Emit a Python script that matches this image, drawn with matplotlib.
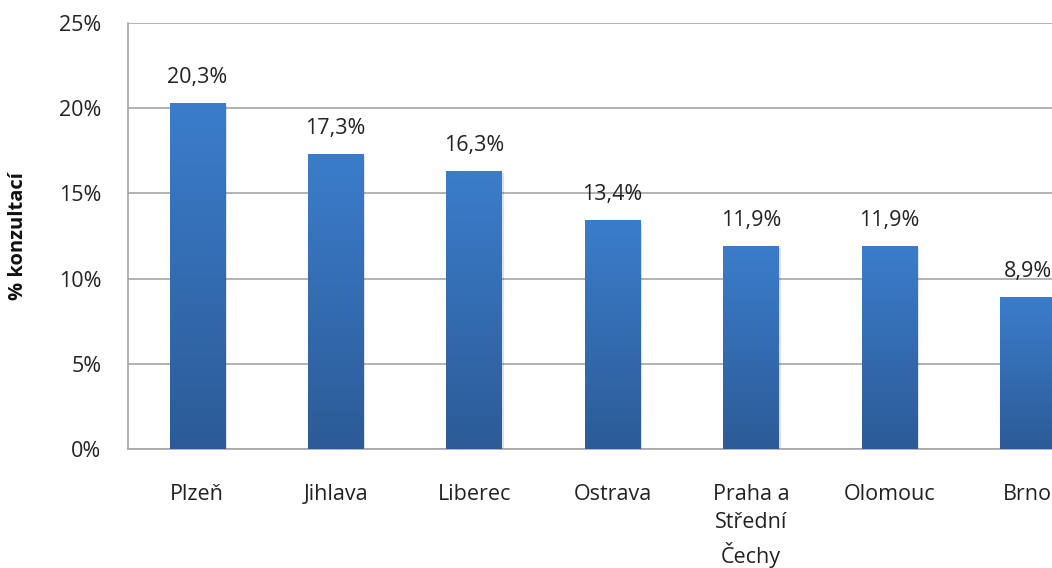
import matplotlib.pyplot as plt
import numpy as np
from matplotlib.colors import LinearSegmentedColormap

cities = ['Plzeň', 'Jihlava', 'Liberec', 'Ostrava', 'Praha a\nStřední\nČechy', 'Olomouc', 'Brno']
values = [20.3, 17.3, 16.3, 13.4, 11.9, 11.9, 8.9]
labels = ['20,3%', '17,3%', '16,3%', '13,4%', '11,9%', '11,9%', '8,9%']

plt.rcParams['font.family'] = ['Open Sans', 'DejaVu Sans']

fig = plt.figure(figsize=(10.52, 5.68), dpi=100)
# plot area runs past the right edge of the picture, as in the original
ax = fig.add_axes([128 / 1052, 1 - 449 / 568, 969 / 1052, 426 / 568])

cmap = LinearSegmentedColormap.from_list('bar', ['#2c5b97', '#3b7dcb'])
grad = np.linspace(0, 1, 256).reshape(-1, 1)
w = 0.4
x = np.arange(len(cities))
fs = 15.5
for i, v in enumerate(values):
    # soft shadow
    ax.bar(i + 0.015, v, width=w, bottom=-0.12, color='#000000', alpha=0.12, zorder=2)
    ax.imshow(grad, cmap=cmap, origin='lower', aspect='auto',
              extent=(i - w / 2, i + w / 2, 0, v), zorder=3)
    ax.annotate(labels[i], (i, v), xytext=(0, 11), textcoords='offset points',
                ha='center', va='bottom', fontsize=fs, color='#222222')

ax.set_xlim(-0.5, len(cities) - 0.5)
ax.set_ylim(0, 25)
ax.set_yticks([0, 5, 10, 15, 20, 25])
ax.set_yticklabels(['0%', '5%', '10%', '15%', '20%', '25%'], fontsize=fs, color='#222222')
ax.set_xticks(x)
ax.set_xticklabels(cities, fontsize=fs, color='#222222', va='top', linespacing=1.45)
ax.tick_params(axis='y', length=0, pad=19)
ax.tick_params(axis='x', length=0, pad=25)
ax.yaxis.grid(True, color='#a6a6a6', linewidth=1.2, zorder=0)
ax.set_axisbelow(True)
for s in ['top', 'right']:
    ax.spines[s].set_visible(False)
ax.spines['left'].set_color('#a6a6a6')
ax.spines['bottom'].set_color('#a6a6a6')
ax.spines['left'].set_linewidth(1.2)
ax.spines['bottom'].set_linewidth(1.2)

fig.text(18 / 1052, 1 - 236 / 568, '% konzultací', rotation=90, ha='center', va='center',
         fontsize=14.5, fontweight='bold', color='#111111')

plt.savefig('out.png', dpi=100)
